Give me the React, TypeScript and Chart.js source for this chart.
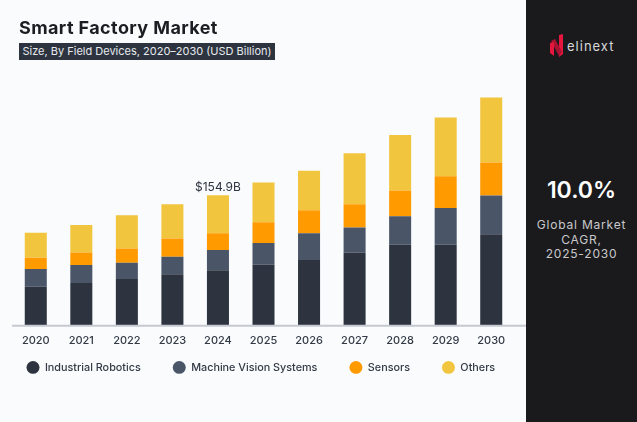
import React, { useEffect, useRef } from "react";
import { Chart, registerables } from "chart.js";

Chart.register(...registerables);

const years = ["2020", "2021", "2022", "2023", "2024", "2025", "2026", "2027", "2028", "2029", "2030"];
const industrialRobotics = [46.5, 50.8, 55.6, 61.1, 65.9, 72.5, 78.0, 87.1, 96.1, 96.1, 108.8];
const machineVision = [20.9, 21.3, 19.3, 20.8, 24.0, 25.7, 31.9, 29.6, 33.9, 43.7, 45.8];
const sensors = [13.4, 15.0, 17.0, 21.8, 20.1, 24.8, 27.2, 27.5, 30.7, 37.8, 39.4];
const others = [29.6, 32.6, 39.4, 40.6, 44.9, 47.3, 46.9, 60.7, 65.9, 69.8, 77.2];
const annotatedYear = "2024";
const FONT = "Inter, 'Noto Sans', sans-serif";

const overlay = {
  id: "overlay",
  beforeLayout(chart: any) {
    const legend = chart.legend;
    if (legend && !legend.__patched) {
      const orig = legend.fit;
      legend.fit = function () {
        this.maxWidth = 700;
        orig.call(this);
        this.height = 1;
      };
      legend.__patched = true;
    }
  },
  afterLayout(chart: any) {
    const legend = chart.legend;
    legend.left = -5.5;
    legend.right = 700;
    legend.top = 330;
    legend.bottom = 422;
  },
  afterDatasetsDraw(chart: any) {
    const { ctx, scales } = chart;
    const y0 = scales.y.getPixelForValue(0);
    ctx.save();
    ctx.strokeStyle = "#c6c9d2";
    ctx.lineWidth = 2;
    ctx.beginPath();
    ctx.moveTo(12, y0);
    ctx.lineTo(526, y0);
    ctx.stroke();
    const i = years.indexOf(annotatedYear);
    const total = industrialRobotics[i] + machineVision[i] + sensors[i] + others[i];
    ctx.fillStyle = "#2d3440";
    ctx.font = `400 12px ${FONT}`;
    ctx.textAlign = "center";
    ctx.textBaseline = "bottom";
    ctx.fillText(`$${total.toFixed(1)}B`, scales.x.getPixelForValue(i), scales.y.getPixelForValue(total) - 2);
    ctx.restore();
  },
};

export default function App() {
  const ref = useRef<HTMLCanvasElement>(null);
  useEffect(() => {
    const chart = new Chart(ref.current!, {
      type: "bar",
      data: {
        labels: years,
        datasets: [
          { label: "Industrial Robotics", data: industrialRobotics, backgroundColor: "#2d3440" },
          { label: "Machine Vision Systems", data: machineVision, backgroundColor: "#4a5568" },
          { label: "Sensors", data: sensors, backgroundColor: "#ff9b00" },
          { label: "Others", data: others, backgroundColor: "#f2c53f" },
        ],
      },
      options: {
        animation: false,
        responsive: false,
        devicePixelRatio: 1,
        layout: { padding: { left: 13, right: 12, top: 89, bottom: 66 } },
        datasets: { bar: { barPercentage: 1, categoryPercentage: 0.4835 } },
        scales: {
          x: {
            stacked: true,
            grid: { display: false, drawTicks: false },
            border: { display: false },
            ticks: { color: "#333a45", font: { family: FONT, size: 11, weight: "500" }, padding: 8, maxRotation: 0 },
          },
          y: { stacked: true, display: false, min: 0, max: 281.2 },
        },
        plugins: {
          tooltip: { enabled: false },
          legend: {
            position: "bottom",
            align: "start",
            labels: {
              usePointStyle: true,
              pointStyle: "circle",
              pointStyleWidth: 13,
              boxHeight: 9,
              color: "#333a45",
              padding: 32,
              font: { family: FONT, size: 10.8, weight: "500" },
            },
          },
        },
      },
      plugins: [overlay],
    } as any);
    return () => chart.destroy();
  }, []);

  return (
    <div style={{ position: "fixed", left: 0, top: 0, width: 637, height: 422, background: "#f9fbfd", overflow: "hidden", fontFamily: FONT }}>
      <canvas ref={ref} width={526} height={422} style={{ position: "absolute", left: 0, top: 0, width: 526, height: 422 }} />
      <div style={{ position: "absolute", left: 19, top: 17, fontSize: 18, fontWeight: 700, color: "#1b1d22", letterSpacing: 0.4, whiteSpace: "nowrap" }}>
        Smart Factory Market
      </div>
      <div style={{ position: "absolute", left: 19, top: 43, width: 256, height: 17, background: "#2d3440", color: "#e8eaee", fontSize: 11, lineHeight: "17px", textAlign: "center", whiteSpace: "nowrap" }}>
        Size, By Field Devices, 2020–2030 (USD Billion)
      </div>
      <div style={{ position: "absolute", left: 526, top: 0, width: 111, height: 422, background: "#1a1a1d" }}>
        <svg style={{ position: "absolute", left: 23, top: 34 }} width="16" height="23" viewBox="0 0 16 23">
          <polygon points="10,1 14,0 14,20 10,23" fill="#e5173f" />
          <polygon points="2,7 6,5 13,18 10,22" fill="#a91231" />
          <polygon points="1,9 5,8 5,22 1,19" fill="#e5173f" />
        </svg>
        <div style={{ position: "absolute", left: 41, top: 38, fontSize: 13, letterSpacing: 1, color: "#d8d8da", whiteSpace: "nowrap" }}>elinext</div>
        <div style={{ position: "absolute", left: 0, width: 111, top: 176, textAlign: "center", fontSize: 23, fontWeight: 600, color: "#ffffff" }}>10.0%</div>
        <div style={{ position: "absolute", left: 0, width: 111, top: 218, textAlign: "center", fontSize: 12, lineHeight: "14.5px", letterSpacing: 0.8, color: "#c9c9cb" }}>
          Global Market
          <br />
          CAGR,
          <br />
          2025-2030
        </div>
      </div>
    </div>
  );
}
